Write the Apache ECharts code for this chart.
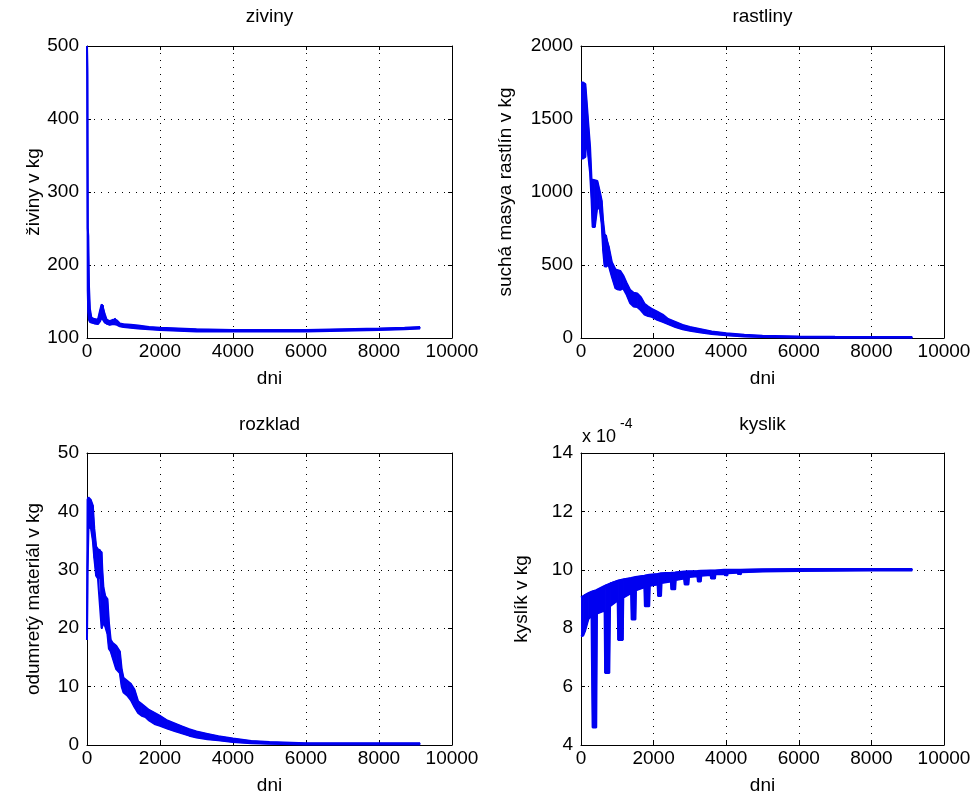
<!DOCTYPE html>
<html>
<head>
<meta charset="utf-8">
<script src="https://cdn.jsdelivr.net/npm/echarts@6/dist/echarts.min.js"></script>
<style>html,body{margin:0;padding:0;background:#fff}#c{width:976px;height:803px}</style>
</head>
<body>
<div id="c"></div>
<script>
// ---- data ----
const titles = ['ziviny', 'rastliny', 'rozklad', 'kyslik'];
const yNames = ['živiny v kg', 'suchá masya rastlín v kg', 'odumretý materiál v kg', 'kyslík v kg'];
const xName = 'dni';

// ziviny: upper / lower envelope of the oscillating curve (kg)
const days1 = [0, 8, 20, 35, 55, 80, 120, 200, 300, 360, 400, 440, 490, 540, 620, 720, 770, 820, 900, 1000, 1200, 1400, 1700, 2000, 2500, 3000, 4000, 5000, 6000, 7000, 8000, 8700, 9125];
const hi1 = [500, 470, 250, 240, 170, 140, 128, 126, 125, 138, 146, 145, 132, 125, 123, 125, 127, 124, 120, 119, 118, 117, 115, 114, 113, 112, 111, 111, 111, 112, 113, 114, 115];
const lo1 = [500, 460, 165, 135, 125, 122, 121, 120, 119, 123, 128, 128, 121, 119, 118, 119, 120, 118, 116, 115, 114, 113, 112, 111, 110, 109, 109, 109, 109, 110, 111, 112, 113];

// rastliny (kg)
const days2 = [0, 60, 120, 150, 200, 250, 290, 320, 380, 450, 520, 570, 610, 650, 700, 760, 850, 950, 1000, 1080, 1160, 1250, 1350, 1450, 1550, 1650, 1750, 1850, 1950, 2100, 2250, 2400, 2600, 2800, 3000, 3300, 3600, 4000, 4500, 5000, 6000, 7000, 8000, 9125];
const hi2 = [1750, 1750, 1740, 1640, 1470, 1310, 1085, 1085, 1080, 1075, 1000, 940, 800, 710, 705, 630, 520, 470, 465, 460, 430, 380, 330, 310, 305, 280, 235, 215, 200, 180, 160, 130, 110, 90, 75, 60, 45, 32, 22, 15, 10, 8, 7, 6];
const lo2 = [1230, 1230, 1240, 1400, 1250, 1130, 950, 760, 760, 900, 880, 780, 600, 490, 486, 500, 420, 340, 330, 330, 340, 300, 240, 215, 212, 190, 160, 150, 145, 125, 110, 95, 75, 60, 50, 38, 28, 18, 10, 6, 3, 2, 2, 2];

// rozklad (kg)
const days3 = [0, 15, 40, 100, 160, 200, 250, 300, 350, 400, 420, 450, 500, 560, 600, 650, 700, 800, 900, 950, 1000, 1100, 1200, 1300, 1400, 1500, 1600, 1700, 1850, 2000, 2200, 2400, 2600, 2800, 3000, 3300, 3600, 4000, 4500, 5000, 6000, 7000, 8000, 9125];
const hi3 = [18, 42, 42.4, 42, 41, 37, 34, 33.5, 33.5, 33, 30, 27, 25.5, 25, 21, 18, 17.5, 17, 16, 13, 11.5, 11, 10.5, 9.5, 7.5, 7, 6.5, 6, 5.5, 5, 4.2, 3.7, 3.2, 2.7, 2.3, 1.9, 1.5, 1.1, 0.7, 0.5, 0.3, 0.3, 0.3, 0.3];
const lo3 = [18, 30, 37, 37.5, 35, 32, 29, 28.5, 28.5, 20, 20, 21, 20.3, 19, 16.5, 16, 15, 13, 12.3, 10, 9, 8.5, 7.7, 6.5, 5.5, 5, 4.8, 4.2, 3.6, 3.3, 2.8, 2.4, 2, 1.6, 1.3, 1.0, 0.8, 0.5, 0.3, 0.2, 0.1, 0.1, 0.1, 0.1];

// kyslik (units of 1e-4 kg)
const days4 = [0, 60, 110, 200, 290, 300, 320, 420, 440, 650, 665, 780, 800, 1010, 1025, 1150, 1165, 1380, 1395, 1500, 1515, 1745, 1760, 1880, 1895, 2110, 2125, 2205, 2220, 2475, 2490, 2595, 2610, 2840, 2855, 2960, 2975, 3205, 3220, 3300, 3315, 3570, 3585, 3690, 3705, 3940, 3955, 4030, 4045, 4300, 4320, 4400, 4420, 5000, 6000, 7000, 8000, 9125];
const hi4 = [9.05, 9.1, 9.15, 9.2, 9.25, 9.26, 9.27, 9.3, 9.32, 9.45, 9.47, 9.52, 9.55, 9.63, 9.64, 9.67, 9.68, 9.72, 9.73, 9.75, 9.76, 9.8, 9.81, 9.83, 9.83, 9.86, 9.87, 9.88, 9.88, 9.9, 9.9, 9.91, 9.92, 9.94, 9.94, 9.95, 9.95, 9.96, 9.96, 9.97, 9.97, 9.98, 9.98, 9.98, 9.98, 10, 10, 10, 10, 10, 10, 10, 10.01, 10.02, 10.03, 10.03, 10.03, 10.03];
const lo4 = [7.72, 7.75, 7.9, 8.3, 8.45, 7.0, 4.6, 4.6, 8.5, 8.6, 6.47, 6.47, 8.75, 8.95, 7.6, 7.6, 9.05, 9.2, 8.3, 8.3, 9.3, 9.4, 8.75, 8.75, 9.45, 9.5, 9.1, 9.1, 9.55, 9.6, 9.33, 9.33, 9.65, 9.7, 9.5, 9.5, 9.75, 9.78, 9.6, 9.6, 9.8, 9.82, 9.7, 9.7, 9.85, 9.86, 9.8, 9.8, 9.88, 9.9, 9.84, 9.84, 9.92, 9.94, 9.96, 9.97, 9.98, 9.98];

const xRange = [0, 10000, 2000];
const yRanges = [[100, 500, 100], [0, 2000, 500], [0, 50, 10], [4, 14, 2]];
const exponentLabel = 'x 10';
const exponentSup = '-4';

// ---- styling / layout ----
const FONT = "'Liberation Sans', Arial, sans-serif";
const FS = 19;
const BLUE = '#0000f0';
const grids = [
  {left: 87, top: 46, width: 365, height: 292},
  {left: 581, top: 46, width: 363, height: 292},
  {left: 87, top: 453, width: 365, height: 292},
  {left: 581, top: 453, width: 363, height: 292}
];
const yNameGaps = [44, 66, 44, 50];
const titleTops = [7, 7, 415, 415];
const sets = [[days1, hi1, lo1], [days2, hi2, lo2], [days3, hi3, lo3], [days4, hi4, lo4]];

const axLine = {show: true, onZero: false, lineStyle: {color: '#000', width: 1}};
const axTick = {show: true, inside: true, length: 4, lineStyle: {color: '#000'}};
const dotted = {show: true, lineStyle: {color: '#000', width: 1, type: [1, 6]}};
const txt = {color: '#000', fontFamily: FONT, fontSize: FS};
const plain = v => String(v);

const xAxis = [], yAxis = [], series = [], title = [];
grids.forEach((g, i) => {
  xAxis.push({gridIndex: i, type: 'value', min: xRange[0], max: xRange[1], interval: xRange[2], position: 'bottom',
    axisLine: axLine, axisTick: axTick, splitLine: dotted,
    axisLabel: Object.assign({margin: 4, showMinLabel: true, showMaxLabel: true, formatter: plain}, txt),
    name: xName, nameLocation: 'middle', nameGap: 31, nameTextStyle: txt});
  xAxis.push({gridIndex: i, type: 'value', min: xRange[0], max: xRange[1], interval: xRange[2], position: 'top',
    axisLine: axLine, axisTick: axTick, splitLine: {show: false}, axisLabel: {show: false}});
  const yr = yRanges[i];
  yAxis.push({gridIndex: i, type: 'value', min: yr[0], max: yr[1], interval: yr[2], position: 'left',
    axisLine: axLine, axisTick: axTick, splitLine: dotted,
    axisLabel: Object.assign({margin: 8, showMinLabel: true, showMaxLabel: true, formatter: plain}, txt),
    name: yNames[i], nameLocation: 'middle', nameGap: yNameGaps[i], nameTextStyle: txt});
  yAxis.push({gridIndex: i, type: 'value', min: yr[0], max: yr[1], interval: yr[2], position: 'right',
    axisLine: axLine, axisTick: axTick, splitLine: {show: false}, axisLabel: {show: false}});
  title.push({text: titles[i], left: g.left + g.width / 2, top: titleTops[i], textAlign: 'center', padding: 0,
    textStyle: {color: '#000', fontFamily: FONT, fontSize: FS, fontWeight: 'normal'}});
  const [d, hi, lo] = sets[i];
  // filled band between the upper and lower envelope (oscillation), drawn via axis coords
  series.push({type: 'custom', xAxisIndex: 2 * i, yAxisIndex: 2 * i, clip: true, z: 2,
    data: d.map((x, k) => [x, hi[k], lo[k]]),
    encode: {x: 0, y: [1, 2]},
    renderItem: (params, api) => {
      const k = params.dataIndex;
      if (k >= d.length - 1) return null;
      const pts = [
        api.coord([d[k], hi[k]]), api.coord([d[k + 1], hi[k + 1]]),
        api.coord([d[k + 1], lo[k + 1]]), api.coord([d[k], lo[k]])
      ];
      return {type: 'polygon', shape: {points: pts}, style: {fill: BLUE, stroke: BLUE, lineWidth: 1}};
    }});
  series.push({type: 'line', xAxisIndex: 2 * i, yAxisIndex: 2 * i, symbol: 'none', z: 3,
    data: d.map((x, k) => [x, hi[k]]), lineStyle: {color: BLUE, width: 2}, itemStyle: {color: BLUE}});
  series.push({type: 'line', xAxisIndex: 2 * i, yAxisIndex: 2 * i, symbol: 'none', z: 3,
    data: d.map((x, k) => [x, lo[k]]), lineStyle: {color: BLUE, width: 2}, itemStyle: {color: BLUE}});
});

const chart = echarts.init(document.getElementById('c'), null, {renderer: 'canvas'});
chart.setOption({
  animation: false,
  backgroundColor: '#fff',
  title, grid: grids, xAxis, yAxis, series,
  graphic: [
    {type: 'text', left: 582, top: 428, style: {text: exponentLabel, fill: '#000', fontFamily: FONT, fontSize: 18}},
    {type: 'text', left: 620, top: 417, style: {text: exponentSup, fill: '#000', fontFamily: FONT, fontSize: 14}}
  ]
});
</script>
</body>
</html>
